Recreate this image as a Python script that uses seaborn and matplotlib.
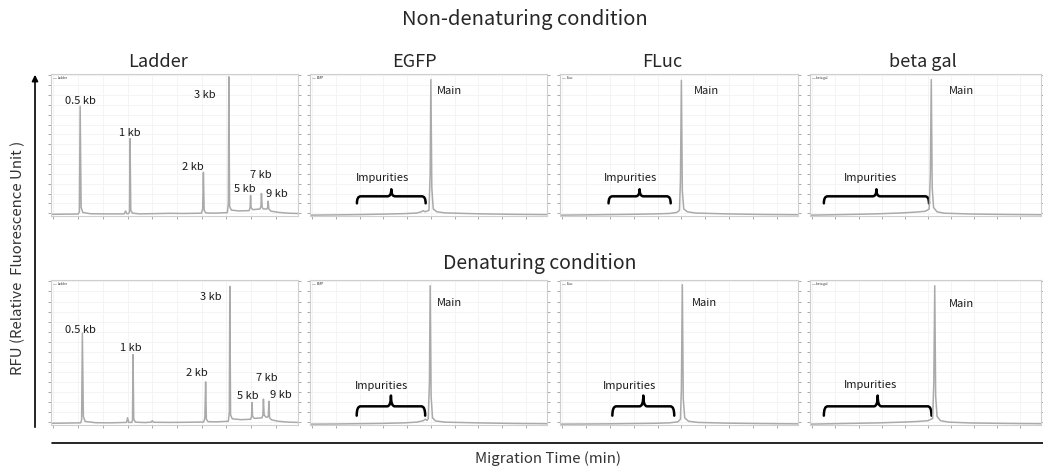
import numpy as np
import matplotlib
matplotlib.use("Agg")
import matplotlib.pyplot as plt
from matplotlib.path import Path
from matplotlib.patches import PathPatch
import seaborn as sns

# ---------------- data (x: % of migration window, y: % of RFU range) ----------------
panel_names = ["Ladder", "EGFP", "FLuc", "beta gal"]
condition_titles = ["Non-denaturing condition", "Denaturing condition"]

ladder_nd_x = [0, 5, 11.0, 11.5, 11.8, 12.2, 12.9, 16, 22, 29.6, 30.2, 30.7, 31.4, 31.8, 32.0, 32.3, 33.0,
               36, 42, 48, 54, 60.9, 61.4, 61.7, 62.0, 62.7, 66, 71.4, 71.8, 72.0, 72.3, 73.0, 76,
               80.2, 80.6, 80.8, 81.0, 81.7, 84.6, 85.0, 85.2, 85.5, 86.0, 87.4, 87.7, 87.9, 88.2, 89.0,
               92, 96, 100]
ladder_nd_y = [1.2, 1.3, 1.4, 3.0, 78, 6, 2.5, 1.6, 1.5, 1.5, 3.5, 1.6, 1.7, 3.0, 55, 4, 2.0,
               1.5, 1.7, 1.9, 1.8, 2.0, 5, 31, 4, 2.2, 2.0, 2.4, 9, 99, 7, 4.2, 3.6,
               3.8, 6, 14.5, 6, 4.5, 5, 7, 16, 6, 5, 5, 6, 10.5, 5, 3.5,
               2.6, 2.0, 1.8]

ladder_d_x = [0, 5, 12.0, 12.4, 12.7, 13.1, 13.8, 18, 24, 30.6, 31.0, 31.5, 32.7, 33.0, 33.2, 33.5, 34.2,
              38, 40.6, 41.0, 41.5, 48, 55, 61.8, 62.3, 62.6, 62.9, 63.6, 67, 71.8, 72.2, 72.4, 72.7, 73.4,
              77, 80.8, 81.2, 81.4, 81.6, 82.3, 85.4, 85.8, 86.0, 86.3, 87.0, 87.7, 88.0, 88.2, 88.5, 89.3,
              92, 96, 100]
ladder_d_y = [1.2, 1.3, 1.5, 3.5, 64, 6, 2.5, 1.6, 1.5, 1.8, 5, 1.8, 1.8, 3.5, 49, 4, 2.0,
              1.7, 2.0, 3.0, 1.9, 1.8, 1.9, 2.1, 5, 30, 4, 2.3, 2.2, 2.6, 9, 96.5, 7, 4.3,
              3.7, 4.0, 6, 15.6, 6, 4.6, 5, 7, 18, 7, 5.5, 5.5, 6.5, 16.5, 5, 3.6,
              2.6, 2.0, 1.8]

egfp_nd_x = [0, 10, 20, 30, 40, 45, 47.0, 47.7, 48.6, 50.2, 50.7, 51.0, 51.4, 52.0, 53.5, 57, 70, 85, 100]
egfp_nd_y = [0.6, 0.8, 1.0, 1.3, 1.7, 2.1, 3.0, 3.8, 3.0, 4.0, 30, 97, 20, 5, 3.0, 2.2, 1.6, 1.2, 1.0]

fluc_nd_x = [0, 10, 20, 30, 40, 46, 49, 50.2, 50.6, 51.0, 51.4, 52.0, 53.5, 57, 70, 85, 100]
fluc_nd_y = [0.6, 0.8, 1.0, 1.2, 1.5, 1.8, 2.5, 4.0, 25, 96.5, 18, 5, 3.0, 2.1, 1.5, 1.1, 0.9]

bgal_nd_x = [0, 10, 20, 30, 40, 46, 50, 51.6, 52.1, 52.5, 52.9, 53.5, 55, 58, 70, 85, 100]
bgal_nd_y = [0.6, 0.9, 1.2, 1.6, 2.2, 2.8, 3.4, 5, 30, 97, 20, 6, 3.0, 2.0, 1.4, 1.1, 0.9]

egfp_d_x = [0, 10, 20, 30, 40, 45, 47.8, 48.6, 49.4, 49.9, 50.4, 50.7, 51.1, 51.7, 53, 57, 70, 85, 100]
egfp_d_y = [0.6, 0.7, 0.9, 1.1, 1.5, 2.0, 3.0, 4.0, 3.2, 4.5, 30, 97, 20, 5, 2.8, 2.0, 1.5, 1.1, 0.9]

fluc_d_x = [0, 10, 20, 30, 40, 46, 49.5, 50.6, 51.0, 51.4, 51.8, 52.4, 54, 58, 70, 85, 100]
fluc_d_y = [0.6, 0.7, 0.8, 1.0, 1.2, 1.5, 2.2, 4.0, 25, 97.7, 18, 5, 2.6, 1.8, 1.3, 1.0, 0.8]

bgal_d_x = [0, 10, 20, 30, 40, 46, 51, 53.1, 53.6, 54.0, 54.4, 55.0, 56.5, 60, 70, 85, 100]
bgal_d_y = [0.6, 0.9, 1.2, 1.5, 2.0, 2.4, 3.0, 4.5, 30, 97, 20, 6, 3.0, 2.0, 1.4, 1.1, 0.9]

# ladder size labels
ladder_labels = ["0.5 kb", "1 kb", "2 kb", "3 kb", "5 kb", "7 kb", "9 kb"]
ladder_nd_lx = [12, 32, 57.5, 62.4, 78.5, 85, 91.5]
ladder_nd_ly = [82, 59, 34.5, 86, 19, 29, 16]
ladder_d_lx = [11.9, 32.4, 59.2, 64.6, 79.6, 87.3, 93.2]
ladder_d_ly = [66, 53.5, 36, 89, 20, 32.6, 21]

# protein panel annotations (EGFP, FLuc, beta gal)
main_nd_x = [59, 61.5, 65.4]
main_nd_y = [89, 89, 89]
main_d_x = [58.9, 60.7, 65.4]
main_d_y = [85, 85, 84]
imp_nd_x = [30.4, 29.6, 26.2]
imp_nd_y = [27, 27, 27]
imp_d_x = [30.3, 29.0, 26.2]
imp_d_y = [27.5, 27.5, 28]
brace_nd_x0 = [19.8, 20.4, 6.0]
brace_nd_x1 = [48.8, 46.5, 51.5]
brace_d_x0 = [19.7, 22.0, 6.0]
brace_d_x1 = [48.6, 48.0, 52.6]
brace_nd_levels = [9.0, 14.0, 19.0]   # end, bar, tip
brace_d_levels = [6.5, 13.0, 20.5]

traces = {
    0: [(ladder_nd_x, ladder_nd_y), (egfp_nd_x, egfp_nd_y), (fluc_nd_x, fluc_nd_y), (bgal_nd_x, bgal_nd_y)],
    1: [(ladder_d_x, ladder_d_y), (egfp_d_x, egfp_d_y), (fluc_d_x, fluc_d_y), (bgal_d_x, bgal_d_y)],
}

# ---------------- styling ----------------
sns.set_theme(style="white")
plt.rcParams["font.family"] = ["Noto Sans CJK JP", "DejaVu Sans"]

W, H = 1043, 467
fig = plt.figure(figsize=(W / 100, H / 100), dpi=100)
fig.patch.set_facecolor("white")


def px_axes(l, t, r, b):
    return fig.add_axes([l / W, 1 - b / H, (r - l) / W, (b - t) / H])


col_px = [(51, 298), (310, 547), (560, 798), (810, 1041)]
row_px = [(74, 216), (280, 425)]

TRACE_C = "#aaaaaa"
SMALL_FS = 8.0


def brace(ax, x0, x1, levels, rx=1.6):
    yb, yl, yt = levels
    xm = (x0 + x1) / 2
    verts = [(x0, yb), (x0, yl), (x0 + rx, yl),
             (xm - rx, yl), (xm, yl), (xm, yt),
             (xm, yl), (xm + rx, yl),
             (x1 - rx, yl), (x1, yl), (x1, yb)]
    codes = [Path.MOVETO, Path.CURVE3, Path.CURVE3,
             Path.LINETO, Path.CURVE3, Path.CURVE3,
             Path.CURVE3, Path.CURVE3,
             Path.LINETO, Path.CURVE3, Path.CURVE3]
    ax.add_patch(PathPatch(Path(verts, codes), fill=False, lw=1.8, ec="black",
                           capstyle="round", joinstyle="round"))


for r in range(2):
    for c in range(4):
        l, rr = col_px[c]
        t, b = row_px[r]
        ax = px_axes(l, t, rr, b)
        xs, ys = traces[r][c]
        sns.lineplot(x=xs, y=ys, ax=ax, color=TRACE_C, lw=1.1, label=panel_names[c])
        ax.set_xlim(0, 100)
        ax.set_ylim(0, 101)
        ax.set_xticks(np.arange(1, 101, 10))
        ax.set_yticks(np.arange(2, 101, 7))
        ax.tick_params(axis="both", which="both", direction="out", length=2.5, width=0.6,
                       color="#9a9a9a", labelleft=False, labelbottom=False,
                       left=True, right=True, bottom=True)
        ax.grid(True, color="#f3f3f3", lw=0.6)
        for s in ax.spines.values():
            s.set_color("#cfcfcf")
            s.set_linewidth(0.8)
        leg = ax.legend(loc="upper left", fontsize=2.2, frameon=False, handlelength=1.2,
                        borderaxespad=0.15, handletextpad=0.3)
        for line in leg.get_lines():
            line.set_linewidth(0.5)
        if c == 0:
            lx = ladder_nd_lx if r == 0 else ladder_d_lx
            ly = ladder_nd_ly if r == 0 else ladder_d_ly
            for txt, x, y in zip(ladder_labels, lx, ly):
                ax.text(x, y, txt, ha="center", va="center", fontsize=SMALL_FS, color="#1a1a1a")
        else:
            k = c - 1
            if r == 0:
                ax.text(main_nd_x[k], main_nd_y[k], "Main", ha="center", va="center", fontsize=SMALL_FS, color="#1a1a1a")
                ax.text(imp_nd_x[k], imp_nd_y[k], "Impurities", ha="center", va="center", fontsize=SMALL_FS, color="#1a1a1a")
                brace(ax, brace_nd_x0[k], brace_nd_x1[k], brace_nd_levels)
            else:
                ax.text(main_d_x[k], main_d_y[k], "Main", ha="center", va="center", fontsize=SMALL_FS, color="#1a1a1a")
                ax.text(imp_d_x[k], imp_d_y[k], "Impurities", ha="center", va="center", fontsize=SMALL_FS, color="#1a1a1a")
                brace(ax, brace_d_x0[k], brace_d_x1[k], brace_d_levels)

# ---------------- figure-level text and axis arrows ----------------
def fx(x):
    return x / W


def fy(y):
    return 1 - y / H


fig.text(fx(525), fy(20), condition_titles[0], ha="center", va="center", fontsize=14.5)
fig.text(fx(540), fy(264), condition_titles[1], ha="center", va="center", fontsize=14)
for name, x in zip(panel_names, [158, 414, 662, 923]):
    fig.text(fx(x), fy(62), name, ha="center", va="center", fontsize=13)

fig.text(fx(548), fy(459), "Migration Time (min)", ha="center", va="center", fontsize=10.8, color="#333333")
fig.text(fx(18), fy(258), "RFU (Relative  Fluorescence Unit )", ha="center", va="center",
         rotation=90, fontsize=10.8, color="#333333")

fig.add_artist(matplotlib.patches.FancyArrowPatch((fx(35), fy(430)), (fx(35), fy(72)),
                                                  transform=fig.transFigure, arrowstyle="-|>",
                                                  mutation_scale=9, lw=1.2, color="black"))
fig.add_artist(matplotlib.lines.Line2D([fx(52), fx(1043)], [fy(443), fy(443)],
                                       transform=fig.transFigure, lw=1.2, color="black"))

fig.savefig("out.png", dpi=100, facecolor="white")
